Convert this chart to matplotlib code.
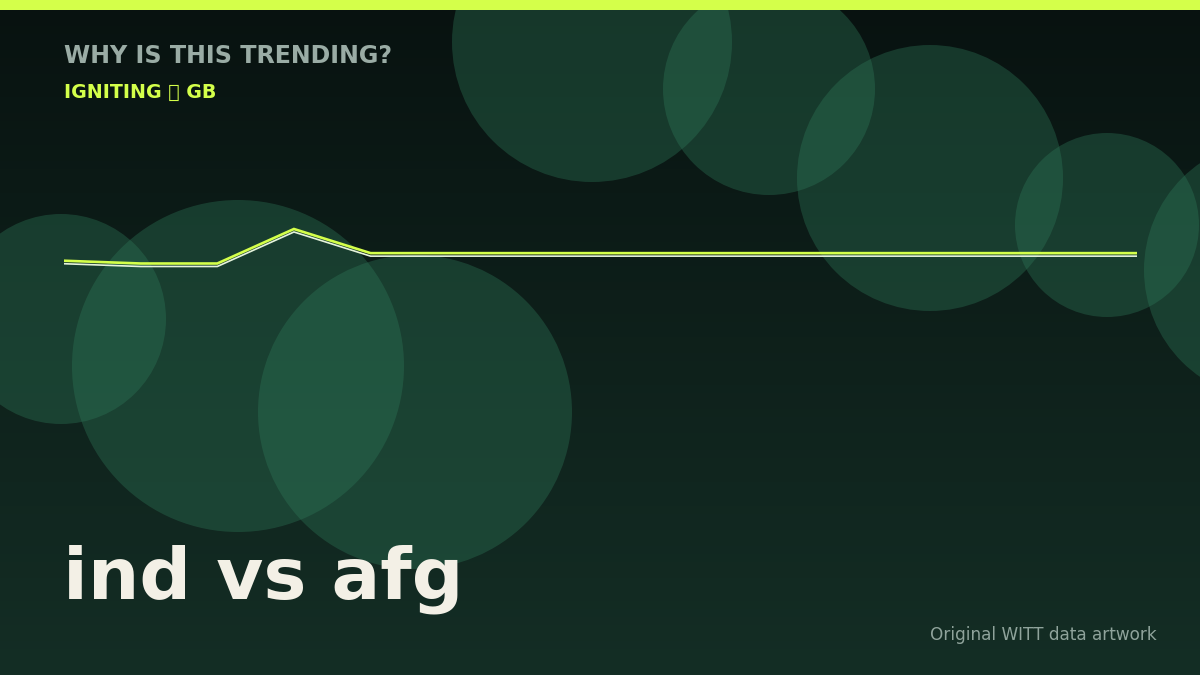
import numpy as np
import matplotlib
matplotlib.use("Agg")
import matplotlib.pyplot as plt
from matplotlib.patches import Circle, Rectangle
from matplotlib.colors import LinearSegmentedColormap
from matplotlib import transforms

# trend values (relative interest), one per step
interest = [54, 50, 50, 100, 65, 65, 65, 65, 65, 65, 65, 65, 65, 65, 65]

# decorative bubbles: centre x, centre y, radius (pixels on the 1200x675 canvas)
bubble_x = [592, 769, 930, 1107, 1274, 61, 238, 415]
bubble_y = [42, 89, 178, 225, 270, 319, 366, 412]
bubble_r = [140, 106, 133, 92, 130, 105, 166, 157]

title = "WHY IS THIS TRENDING?"
subtitle = "IGNITING \U0001F525 GB"
headline = "ind vs afg"
footer = "Original WITT data artwork"

W, H = 1200, 675
lime = "#d4ff4a"

fig = plt.figure(figsize=(12, 6.75), dpi=100)

# background canvas in pixel coords
bg = fig.add_axes([0, 0, 1, 1])
bg.set_xlim(0, W)
bg.set_ylim(H, 0)
bg.axis("off")

grad = LinearSegmentedColormap.from_list("bg", ["#081210", "#142e25"])
bg.imshow(np.linspace(0, 1, 256).reshape(-1, 1), cmap=grad, aspect="auto",
          extent=[0, W, H, 0], zorder=0)

for x, y, r in zip(bubble_x, bubble_y, bubble_r):
    bg.add_patch(Circle((x, y), r, facecolor="#2f7a5a", alpha=0.36,
                        edgecolor="none", zorder=1))

bg.add_patch(Rectangle((0, 0), W, 10, facecolor=lime, edgecolor="none", zorder=5))

bg.text(64, 63, title, color="#9aaca5", fontsize=17.1, fontweight="bold",
        va="baseline", zorder=6)
bg.text(64, 98, subtitle, color=lime, fontsize=13.7, fontweight="bold",
        va="baseline", zorder=6)
bg.text(63, 598, headline, color="#f3f0e6", fontsize=52, fontweight="bold",
        va="baseline", zorder=6)
bg.text(1157, 640, footer, color="#8fa39b", fontsize=12.2, ha="right",
        va="baseline", zorder=6)

# trend line
ax = fig.add_axes([64 / W, 1 - 300 / H, (1137 - 64) / W, 100 / H])
ax.set_xlim(0, len(interest) - 1)
ax.set_ylim(-2.9, 142.0)
ax.axis("off")
ax.patch.set_alpha(0)

xs = np.arange(len(interest))
shadow = transforms.offset_copy(ax.transData, fig=fig, x=0, y=-3, units="dots")
ax.plot(xs, interest, color="#e6f4dc", lw=1.2, transform=shadow,
        solid_joinstyle="miter")
ax.plot(xs, interest, color=lime, lw=1.9, solid_joinstyle="miter")

fig.savefig("out.png", dpi=100)
